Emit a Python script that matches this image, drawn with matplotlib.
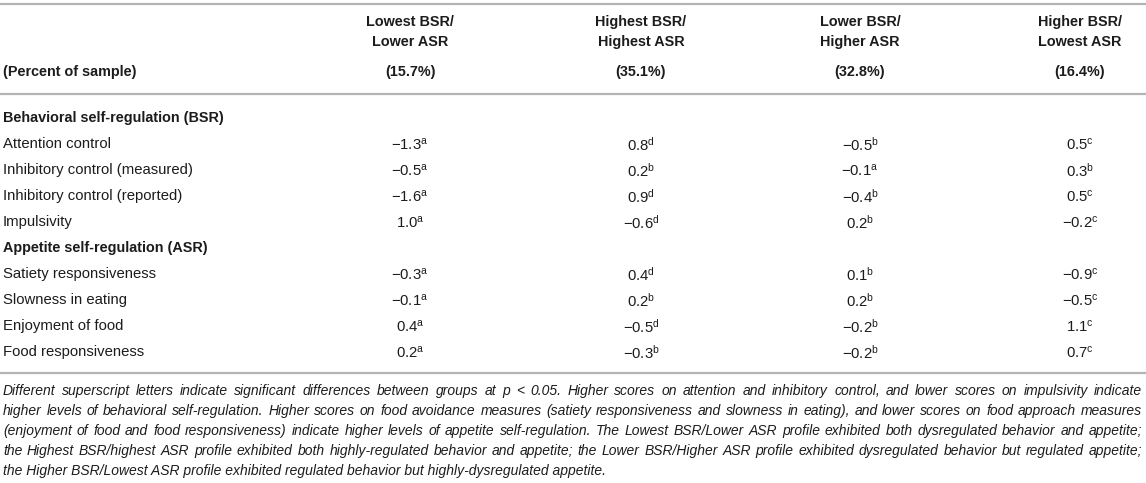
import matplotlib
matplotlib.use("Agg")
import matplotlib.pyplot as plt

plt.rcParams['font.family'] = ['Liberation Sans', 'DejaVu Sans']
plt.rcParams['mathtext.fontset'] = 'custom'
plt.rcParams['mathtext.rm'] = 'Liberation Sans'
plt.rcParams['mathtext.it'] = 'Liberation Sans:italic'
plt.rcParams['mathtext.bf'] = 'Liberation Sans:bold'

# ---------------- data ----------------
col_line1 = ["Lowest BSR/", "Highest BSR/", "Lower BSR/", "Higher BSR/"]
col_line2 = ["Lower ASR", "Highest ASR", "Higher ASR", "Lowest ASR"]
col_pct = ["(15.7%)", "(35.1%)", "(32.8%)", "(16.4%)"]
pct_label = "(Percent of sample)"

section_bsr = "Behavioral self-regulation (BSR)"
section_asr = "Appetite self-regulation (ASR)"

bsr_rows = ["Attention control", "Inhibitory control (measured)",
            "Inhibitory control (reported)", "Impulsivity"]
bsr_vals = [
    ["−1.3", "0.8", "−0.5", "0.5"],
    ["−0.5", "0.2", "−0.1", "0.3"],
    ["−1.6", "0.9", "−0.4", "0.5"],
    ["1.0", "−0.6", "0.2", "−0.2"],
]
bsr_sups = [
    ["a", "d", "b", "c"],
    ["a", "b", "a", "b"],
    ["a", "d", "b", "c"],
    ["a", "d", "b", "c"],
]

asr_rows = ["Satiety responsiveness", "Slowness in eating",
            "Enjoyment of food", "Food responsiveness"]
asr_vals = [
    ["−0.3", "0.4", "0.1", "−0.9"],
    ["−0.1", "0.2", "0.2", "−0.5"],
    ["0.4", "−0.5", "−0.2", "1.1"],
    ["0.2", "−0.3", "−0.2", "0.7"],
]
asr_sups = [
    ["a", "d", "b", "c"],
    ["a", "b", "b", "c"],
    ["a", "d", "b", "c"],
    ["a", "b", "b", "c"],
]

footnote_lines = [
    "Different superscript letters indicate significant differences between groups at p < 0.05. Higher scores on attention and inhibitory control, and lower scores on impulsivity indicate",
    "higher levels of behavioral self-regulation. Higher scores on food avoidance measures (satiety responsiveness and slowness in eating), and lower scores on food approach measures",
    "(enjoyment of food and food responsiveness) indicate higher levels of appetite self-regulation. The Lowest BSR/Lower ASR profile exhibited both dysregulated behavior and appetite;",
    "the Highest BSR/highest ASR profile exhibited both highly-regulated behavior and appetite; the Lower BSR/Higher ASR profile exhibited dysregulated behavior but regulated appetite;",
    "the Higher BSR/Lowest ASR profile exhibited regulated behavior but highly-dysregulated appetite.",
]

# ---------------- layout ----------------
W, H = 1146, 483
fig = plt.figure(figsize=(W / 100, H / 100), dpi=100)
ax = fig.add_axes([0, 0, 1, 1])
ax.set_xlim(0, W)
ax.set_ylim(H, 0)
ax.axis('off')

TXT = '#1c1c1c'
LINE = '#b4b4b4'
FS_B = 10.4
FS = 10.7
FS_NOTE = 10.0
col_x = [410, 641, 860, 1080]
left = 3

# rules
for y in (4, 94, 373):
    ax.plot([0, W], [y, y], color=LINE, lw=1.6, solid_capstyle='butt')

# header
for i, cx in enumerate(col_x):
    ax.text(cx, 22, col_line1[i], ha='center', va='center', fontsize=FS_B, fontweight='bold', color=TXT)
    ax.text(cx, 42, col_line2[i], ha='center', va='center', fontsize=FS_B, fontweight='bold', color=TXT)
    ax.text(cx, 72, col_pct[i], ha='center', va='center', fontsize=FS_B, fontweight='bold', color=TXT)
ax.text(left, 72, pct_label, ha='left', va='center', fontsize=FS_B, fontweight='bold', color=TXT)

row_h = 26
y = 118
def draw_section(title, rows, vals, sups, y):
    ax.text(left, y, title, ha='left', va='center', fontsize=FS_B, fontweight='bold', color=TXT)
    y += row_h
    for r, lab in enumerate(rows):
        ax.text(left, y, lab, ha='left', va='center', fontsize=FS, color=TXT)
        for c, cx in enumerate(col_x):
            s = vals[r][c] + r"$^{\mathrm{" + sups[r][c] + "}}$"
            ax.text(cx, y + 0.5, s, ha='center', va='center', fontsize=FS, color=TXT)
        y += row_h
    return y

y = draw_section(section_bsr, bsr_rows, bsr_vals, bsr_sups, y)
y = draw_section(section_asr, asr_rows, asr_vals, asr_sups, y)

# footnote (justified)
renderer = fig.canvas.get_renderer()
note_y0 = 391
note_dy = 20
x0, x1 = 3, 1142
for i, line in enumerate(footnote_lines):
    yy = note_y0 + i * note_dy
    if i == len(footnote_lines) - 1:
        ax.text(x0, yy, line, ha='left', va='center', fontsize=FS_NOTE, style='italic', color=TXT)
        continue
    words = line.split(' ')
    texts = [ax.text(0, yy, w, ha='left', va='center', fontsize=FS_NOTE, style='italic', color=TXT)
             for w in words]
    widths = [t.get_window_extent(renderer).width for t in texts]
    gap = (x1 - x0 - sum(widths)) / (len(words) - 1)
    x = x0
    for t, w in zip(texts, widths):
        t.set_x(x)
        x += w + gap

fig.savefig('out.png', dpi=100)
